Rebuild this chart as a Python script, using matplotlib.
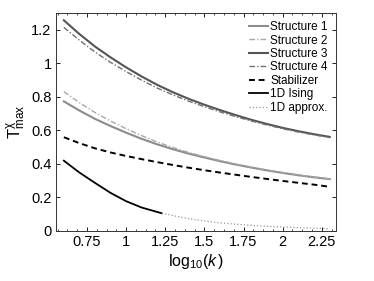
import numpy as np
import matplotlib
matplotlib.use("Agg")
import matplotlib.pyplot as plt
from matplotlib.ticker import AutoMinorLocator

plt.rcParams['font.family'] = ['Liberation Sans', 'DejaVu Sans']
plt.rcParams['mathtext.fontset'] = 'custom'
plt.rcParams['mathtext.rm'] = 'Liberation Sans'
plt.rcParams['mathtext.it'] = 'Liberation Sans:italic'

# log10(k) grid
logk = [0.602, 0.7, 0.8, 0.9, 1.0, 1.1, 1.2, 1.3, 1.4, 1.5,
        1.6, 1.7, 1.8, 1.9, 2.0, 2.1, 2.2, 2.301]

struct1 = [0.772, 0.718, 0.668, 0.625, 0.585, 0.548, 0.515, 0.486, 0.460, 0.437,
           0.415, 0.395, 0.377, 0.360, 0.345, 0.331, 0.319, 0.308]
struct2 = [0.830, 0.765, 0.706, 0.655, 0.609, 0.567, 0.529, 0.496, 0.467, 0.442,
           0.419, 0.398, 0.380, 0.362, 0.347, 0.333, 0.320, 0.309]
struct3 = [1.256, 1.175, 1.100, 1.035, 0.975, 0.920, 0.870, 0.826, 0.787, 0.752,
           0.720, 0.690, 0.662, 0.637, 0.614, 0.594, 0.576, 0.560]
struct4 = [1.214, 1.138, 1.067, 1.005, 0.950, 0.898, 0.851, 0.810, 0.773, 0.740,
           0.709, 0.681, 0.655, 0.631, 0.609, 0.589, 0.572, 0.556]
stab = [0.558, 0.523, 0.492, 0.467, 0.446, 0.427, 0.409, 0.392, 0.376, 0.361,
        0.347, 0.334, 0.321, 0.309, 0.297, 0.286, 0.275, 0.262]

ising_x = [0.602, 0.7, 0.8, 0.9, 1.0, 1.1, 1.228]
ising_y = [0.418, 0.348, 0.286, 0.226, 0.176, 0.138, 0.104]

approx_x = [1.228, 1.3, 1.4, 1.5, 1.6, 1.7, 1.8, 1.9, 2.0, 2.1, 2.2, 2.301]
approx_y = [0.104, 0.090, 0.072, 0.058, 0.047, 0.039, 0.032, 0.026, 0.022, 0.018, 0.015, 0.012]

xticks = [0.75, 1, 1.25, 1.5, 1.75, 2, 2.25]
xticklabels = ['0.75', '1', '1.25', '1.5', '1.75', '2', '2.25']
yticks = [0, 0.2, 0.4, 0.6, 0.8, 1, 1.2]
yticklabels = ['0', '0.2', '0.4', '0.6', '0.8', '1', '1.2']

fig = plt.figure(figsize=(3.74, 2.81), dpi=100)
ax = fig.add_axes([0.149, 0.179, 0.749, 0.775])

ax.plot(logk, struct1, '-', color='#8c8c8c', lw=1.5, label='Structure 1')
ax.plot(logk, struct2, color='#a8a8a8', lw=1.0, dashes=(4, 1.5, 1, 1.5), label='Structure 2')
ax.plot(logk, struct3, '-', color='#555555', lw=1.5, label='Structure 3')
ax.plot(logk, struct4, color='#707070', lw=1.0, dashes=(4, 1.5, 1, 1.5), label='Structure 4')
ax.plot(logk, stab, color='black', lw=1.4, dashes=(3, 2), label='Stabilizer')
ax.plot(ising_x, ising_y, '-', color='black', lw=1.3, label='1D Ising')
ax.plot(approx_x, approx_y, ':', color='#999999', lw=0.9, label='1D approx.')

ax.set_xlim(0.55, 2.34)
ax.set_ylim(0, 1.3)
ax.set_xticks(xticks)
ax.set_xticklabels(xticklabels)
ax.set_yticks(yticks)
ax.set_yticklabels(yticklabels)
ax.xaxis.set_minor_locator(AutoMinorLocator(4))
ax.tick_params(which='both', direction='in', top=True, right=True, labelsize=10.5, pad=3)
ax.tick_params(which='major', length=3, width=0.6)
ax.tick_params(which='minor', length=1.5, width=0.5)
for s in ax.spines.values():
    s.set_linewidth(0.7)
    s.set_color('#333333')

ax.set_xlabel(r'$\mathregular{log_{10}(}\mathit{k}\,\mathregular{)}$', fontsize=11.5, labelpad=2)
ax.set_ylabel(r'$\mathregular{T^{\chi}_{max}}$', fontsize=12, labelpad=2)

ax.legend(loc='upper right', frameon=False, fontsize=8.5, handlelength=1.6,
          handletextpad=0.2, labelspacing=0.12, borderaxespad=0.3)

fig.savefig('out.png', dpi=100)
